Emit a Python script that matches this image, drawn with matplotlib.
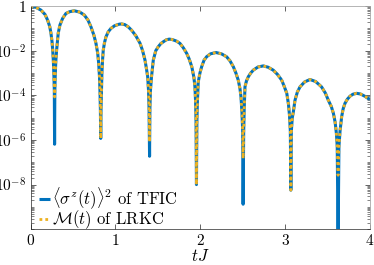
import numpy as np
import matplotlib
matplotlib.use('Agg')
import matplotlib.pyplot as plt
from matplotlib.ticker import FixedLocator, LogLocator, NullFormatter

plt.rcParams['mathtext.fontset'] = 'cm'
plt.rcParams['font.family'] = 'serif'
plt.rcParams['font.serif'] = ['cmr10', 'DejaVu Serif']
plt.rcParams['axes.formatter.use_mathtext'] = True

# time axis tJ
t = [0.000, 0.060, 0.121, 0.170, 0.200, 0.225, 0.239, 0.252, 0.260, 0.268, 0.275, 0.279, 0.282,
     0.285, 0.289, 0.296, 0.306, 0.325, 0.345, 0.377, 0.416, 0.460, 0.514, 0.580, 0.632, 0.675,
     0.711, 0.745, 0.770, 0.790, 0.802, 0.812, 0.818, 0.822, 0.826,
     0.830, 0.834, 0.840, 0.848, 0.856, 0.870, 0.888, 0.915, 0.947, 0.990, 1.045, 1.073, 1.110,
     1.150, 1.190, 1.240, 1.290, 1.320, 1.348, 1.365, 1.380, 1.390, 1.396, 1.402,
     1.406, 1.412, 1.425, 1.446, 1.475, 1.505, 1.535, 1.564, 1.600, 1.634, 1.670, 1.720, 1.760,
     1.800, 1.840, 1.870, 1.900, 1.925, 1.937, 1.945, 1.950, 1.955,
     1.960, 1.966, 1.976, 1.996, 2.016, 2.045, 2.075, 2.120, 2.185, 2.250, 2.310, 2.350, 2.390,
     2.420, 2.448, 2.468, 2.480, 2.492, 2.500, 2.505,
     2.512, 2.518, 2.527, 2.545, 2.566, 2.595, 2.625, 2.680, 2.743, 2.800, 2.860, 2.910, 2.960,
     2.990, 3.020, 3.040, 3.052, 3.062, 3.068,
     3.074, 3.085, 3.097, 3.117, 3.145, 3.176, 3.230, 3.294, 3.360, 3.430, 3.475, 3.510, 3.545,
     3.570, 3.590, 3.605, 3.615, 3.625,
     3.635, 3.648, 3.667, 3.685, 3.706, 3.735, 3.765, 3.800, 3.844, 3.890, 3.940, 3.980, 4.000]

# log10 of the common curve, None marks a dip (values below)
shape_log10 = [0.00, -0.05, -0.18, -0.38, -0.63, -0.92, -1.21, -1.60, -1.97, -2.50, -3.20, -3.80, None,
               -3.80, -3.20, -2.50, -1.97, -1.21, -0.85, -0.55, -0.33, -0.25, -0.21, -0.27, -0.40, -0.62,
               -0.93, -1.30, -1.67, -2.10, -2.56, -3.20, -3.90, -4.60, None,
               -4.60, -3.90, -3.00, -2.40, -1.97, -1.65, -1.38, -1.15, -1.00, -0.88, -0.81, -0.80, -0.83,
               -0.93, -1.08, -1.33, -1.67, -2.00, -2.42, -2.80, -3.17, -3.80, -4.60, None,
               -4.60, -3.80, -3.17, -2.42, -2.00, -1.82, -1.68, -1.60, -1.51, -1.48, -1.50, -1.57, -1.67,
               -1.87, -2.12, -2.38, -2.72, -3.20, -3.62, -4.30, -5.20, None,
               -5.20, -4.30, -3.40, -3.00, -2.72, -2.42, -2.27, -2.14, -2.08, -2.14, -2.27, -2.45, -2.72,
               -3.00, -3.32, -3.70, -4.07, -4.80, -5.60, None,
               -5.60, -4.60, -3.62, -3.35, -3.17, -3.00, -2.87, -2.73, -2.68, -2.74, -2.87, -3.06, -3.32,
               -3.60, -3.91, -4.40, -4.90, -5.60, None,
               -5.60, -5.00, -4.75, -4.22, -3.85, -3.62, -3.40, -3.29, -3.38, -3.62, -3.90, -4.22, -4.50,
               -4.81, -5.20, -5.70, -6.30, None,
               -6.30, -5.60, -4.96, -4.60, -4.36, -4.17, -4.04, -3.95, -3.91, -3.94, -4.04, -4.14, -4.17]

# depth of each dip (log10)
tfic_dips = [-6.19, -5.93, -6.73, -8.00, -8.88, -8.25, -10.5]
lrkc_dips = [-4.07, -5.93, -6.08, -8.00, -6.83, -8.25, -7.58]

xticks = [0, 1, 2, 3, 4]
yticks = [1e-8, 1e-6, 1e-4, 1e-2, 1]
yticklabels = [r'$10^{-8}$', r'$10^{-6}$', r'$10^{-4}$', r'$10^{-2}$', r'$1$']


def fill_dips(shape, dips):
    out = []
    k = 0
    for v in shape:
        if v is None:
            out.append(dips[k])
            k += 1
        else:
            out.append(v)
    return 10.0 ** np.array(out)


tfic = fill_dips(shape_log10, tfic_dips)
lrkc = fill_dips(shape_log10, lrkc_dips)

fig = plt.figure(figsize=(3.74, 2.65), dpi=100)
ax = fig.add_axes([0.082, 0.135, 0.907, 0.842])

ax.plot(t, tfic, color='#0072BD', lw=2.2, solid_capstyle='butt',
        label=r'$\langle\sigma^z(t)\rangle^2$ of TFIC')
ax.plot(t, lrkc, color='#EDB120', lw=2.0, linestyle=(0, (1, 1.1)),
        label=r'$\mathcal{M}(t)$ of LRKC')

ax.set_yscale('log')
ax.set_xlim(0, 4)
ax.set_ylim(1e-10, 1)

ax.set_xticks(xticks)
ax.set_xticklabels([r'$%d$' % v for v in xticks], fontsize=11)
ax.yaxis.set_major_locator(FixedLocator(yticks))
ax.set_yticklabels(yticklabels, fontsize=11)
ax.yaxis.set_minor_locator(LogLocator(base=10, subs=np.arange(1, 10), numticks=100))
ax.yaxis.set_minor_formatter(NullFormatter())

ax.tick_params(which='both', direction='in', top=True, right=True, color='#262626', pad=3)
ax.tick_params(which='major', length=3.5, width=0.5)
ax.tick_params(which='minor', length=2, width=0.4)
for side in ['left', 'bottom']:
    ax.spines[side].set_color('#262626')
    ax.spines[side].set_linewidth(0.5)
for side in ['top', 'right']:
    ax.spines[side].set_color('#a8a8a8')
    ax.spines[side].set_linewidth(0.6)

ax.set_xlabel(r'$tJ$', fontsize=12, labelpad=0)

ax.legend(loc='lower left', frameon=False, fontsize=12, handlelength=0.65,
          handletextpad=0.1, borderaxespad=0.0, labelspacing=-0.15,
          bbox_to_anchor=(0.005, -0.04))

plt.savefig('out.png', dpi=100)
